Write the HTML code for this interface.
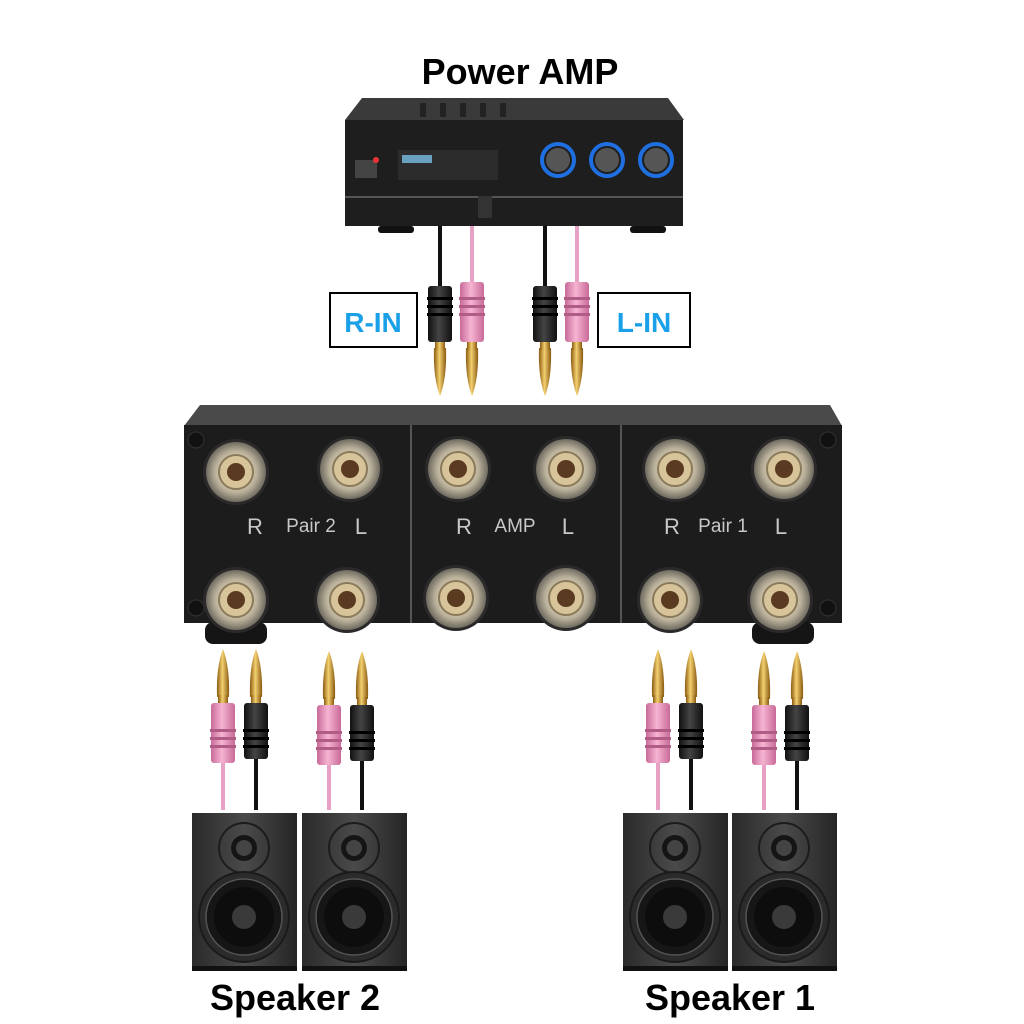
<!DOCTYPE html>
<html><head><meta charset="utf-8"><style>
body{margin:0;background:#fff;}
svg{display:block}
text{font-family:"Liberation Sans",Arial,sans-serif;font-weight:bold}
</style></head><body>
<svg width="1024" height="1024" viewBox="0 0 1024 1024" xmlns="http://www.w3.org/2000/svg">
<defs>
<linearGradient id="gold" x1="0" x2="1"><stop offset="0" stop-color="#8a5a10"/><stop offset=".45" stop-color="#f3d070"/><stop offset="1" stop-color="#8a5a10"/></linearGradient>
<linearGradient id="pink" x1="0" x2="1"><stop offset="0" stop-color="#c86a98"/><stop offset=".45" stop-color="#f6b4d2"/><stop offset="1" stop-color="#c86a98"/></linearGradient>
<linearGradient id="blk" x1="0" x2="1"><stop offset="0" stop-color="#111"/><stop offset=".45" stop-color="#444"/><stop offset="1" stop-color="#111"/></linearGradient>
<radialGradient id="post" cx=".5" cy=".5" r=".5"><stop offset=".3" stop-color="#e8dcc0"/><stop offset=".7" stop-color="#b9b09a"/><stop offset="1" stop-color="#6f6a60"/></radialGradient>
<linearGradient id="spk" x1="0" x2="1"><stop offset="0" stop-color="#2a2a2a"/><stop offset=".5" stop-color="#4a4a4a"/><stop offset="1" stop-color="#252525"/></linearGradient>
<g id="bp">
<circle r="33" fill="#2a2a2a"/>
<circle r="30" fill="url(#post)"/>
<circle r="17" fill="#d8c49a" stroke="#8a7a5a" stroke-width="2"/>
<circle r="9" fill="#5a3a20"/>
</g>
<g id="plugP">
<path d="M-6 0 Q-7 -30 0 -48 Q7 -30 6 0 Z" fill="url(#gold)"/>
<rect x="-5" y="-2" width="10" height="8" fill="url(#gold)"/>
<rect x="-12" y="6" width="24" height="60" rx="3" fill="url(#pink)"/>
<g fill="#b05c86"><rect x="-13" y="32" width="26" height="3"/><rect x="-13" y="40" width="26" height="3"/><rect x="-13" y="48" width="26" height="3"/></g>
</g>
<g id="plugB">
<path d="M-6 0 Q-7 -30 0 -48 Q7 -30 6 0 Z" fill="url(#gold)"/>
<rect x="-5" y="-2" width="10" height="8" fill="url(#gold)"/>
<rect x="-12" y="6" width="24" height="56" rx="3" fill="url(#blk)"/>
<g fill="#000"><rect x="-13" y="32" width="26" height="3"/><rect x="-13" y="40" width="26" height="3"/><rect x="-13" y="48" width="26" height="3"/></g>
</g>
<g id="spkr">
<rect x="0" y="0" width="105" height="157" fill="url(#spk)"/>
<rect x="0" y="153" width="105" height="5" fill="#111"/>
<circle cx="52" cy="35" r="25" fill="none" stroke="#1c1c1c" stroke-width="2"/>
<circle cx="52" cy="35" r="13" fill="#151515"/>
<circle cx="52" cy="35" r="8" fill="#444"/>
<circle cx="52" cy="104" r="45" fill="#2b2b2b" stroke="#1a1a1a" stroke-width="2"/>
<circle cx="52" cy="104" r="38" fill="#161616" stroke="#555" stroke-width="1.5"/>
<circle cx="52" cy="104" r="30" fill="#0d0d0d"/>
<circle cx="52" cy="104" r="12" fill="#3a3a3a"/>
</g>
</defs>

<text x="520" y="84" font-size="36" text-anchor="middle" fill="#000">Power AMP</text>

<path d="M362 98 L668 98 L684 120 L345 120 Z" fill="#3a3a3a"/>
<g fill="#222"><rect x="420" y="103" width="6" height="14"/><rect x="440" y="103" width="6" height="14"/><rect x="460" y="103" width="6" height="14"/><rect x="480" y="103" width="6" height="14"/><rect x="500" y="103" width="6" height="14"/></g>
<rect x="345" y="120" width="338" height="106" fill="#1e1e1e"/>
<rect x="345" y="196" width="338" height="2" fill="#555"/>
<rect x="355" y="160" width="22" height="18" fill="#444"/>
<circle cx="376" cy="160" r="3" fill="#e33"/>
<rect x="398" y="150" width="100" height="30" fill="#2c2c2c"/>
<rect x="402" y="155" width="30" height="8" fill="#6aa0c0"/>
<g fill="none" stroke="#1f6fe0" stroke-width="4"><circle cx="558" cy="160" r="16"/><circle cx="607" cy="160" r="16"/><circle cx="656" cy="160" r="16"/></g>
<g fill="#555"><circle cx="558" cy="160" r="12"/><circle cx="607" cy="160" r="12"/><circle cx="656" cy="160" r="12"/></g>
<rect x="478" y="196" width="14" height="22" fill="#333"/>
<rect x="378" y="226" width="36" height="7" rx="3" fill="#111"/>
<rect x="630" y="226" width="36" height="7" rx="3" fill="#111"/>

<rect x="438" y="226" width="4" height="60" fill="#111"/>
<rect x="470" y="226" width="4" height="60" fill="#e8a0c4"/>
<rect x="543" y="226" width="4" height="60" fill="#111"/>
<rect x="575" y="226" width="4" height="60" fill="#e8a0c4"/>
<g transform="translate(440,348) scale(1,-1)"><use href="#plugB"/></g>
<g transform="translate(472,348) scale(1,-1)"><use href="#plugP"/></g>
<g transform="translate(545,348) scale(1,-1)"><use href="#plugB"/></g>
<g transform="translate(577,348) scale(1,-1)"><use href="#plugP"/></g>

<rect x="330" y="293" width="87" height="54" fill="#fff" stroke="#000" stroke-width="2"/>
<text x="373" y="332" font-size="28" text-anchor="middle" fill="#1aa0e8">R-IN</text>
<rect x="598" y="293" width="92" height="54" fill="#fff" stroke="#000" stroke-width="2"/>
<text x="644" y="332" font-size="28" text-anchor="middle" fill="#1aa0e8">L-IN</text>

<path d="M200 405 L830 405 L842 426 L184 426 Z" fill="#4a4a4a"/>
<rect x="184" y="425" width="658" height="198" fill="#1c1c1c"/>
<rect x="410" y="425" width="2" height="198" fill="#555"/>
<rect x="620" y="425" width="2" height="198" fill="#555"/>
<g fill="#111" stroke="#333"><circle cx="196" cy="440" r="8"/><circle cx="196" cy="608" r="8"/><circle cx="828" cy="440" r="8"/><circle cx="828" cy="608" r="8"/></g>
<rect x="205" y="622" width="62" height="22" rx="8" fill="#151515"/>
<rect x="752" y="622" width="62" height="22" rx="8" fill="#151515"/>
<use href="#bp" x="236" y="472"/><use href="#bp" x="350" y="469"/>
<use href="#bp" x="458" y="469"/><use href="#bp" x="566" y="469"/>
<use href="#bp" x="675" y="469"/><use href="#bp" x="784" y="469"/>
<use href="#bp" x="236" y="600"/><use href="#bp" x="347" y="600"/>
<use href="#bp" x="456" y="598"/><use href="#bp" x="566" y="598"/>
<use href="#bp" x="670" y="600"/><use href="#bp" x="780" y="600"/>
<g fill="#c8c8c8">
<text x="255" y="534" font-size="22" text-anchor="middle" style="font-weight:normal">R</text>
<text x="311" y="532" font-size="19" text-anchor="middle" style="font-weight:normal">Pair 2</text>
<text x="361" y="534" font-size="22" text-anchor="middle" style="font-weight:normal">L</text>
<text x="464" y="534" font-size="22" text-anchor="middle" style="font-weight:normal">R</text>
<text x="515" y="532" font-size="19" text-anchor="middle" style="font-weight:normal">AMP</text>
<text x="568" y="534" font-size="22" text-anchor="middle" style="font-weight:normal">L</text>
<text x="672" y="534" font-size="22" text-anchor="middle" style="font-weight:normal">R</text>
<text x="723" y="532" font-size="19" text-anchor="middle" style="font-weight:normal">Pair 1</text>
<text x="781" y="534" font-size="22" text-anchor="middle" style="font-weight:normal">L</text>
</g>

<g>
<rect x="221" y="750" width="4" height="60" fill="#e8a0c4"/><rect x="254" y="750" width="4" height="60" fill="#111"/>
<rect x="327" y="750" width="4" height="60" fill="#e8a0c4"/><rect x="360" y="750" width="4" height="60" fill="#111"/>
<rect x="656" y="750" width="4" height="60" fill="#e8a0c4"/><rect x="689" y="750" width="4" height="60" fill="#111"/>
<rect x="762" y="750" width="4" height="60" fill="#e8a0c4"/><rect x="795" y="750" width="4" height="60" fill="#111"/>
</g>
<use href="#plugP" x="223" y="697"/><use href="#plugB" x="256" y="697"/>
<use href="#plugP" x="329" y="699"/><use href="#plugB" x="362" y="699"/>
<use href="#plugP" x="658" y="697"/><use href="#plugB" x="691" y="697"/>
<use href="#plugP" x="764" y="699"/><use href="#plugB" x="797" y="699"/>

<use href="#spkr" x="192" y="813"/><use href="#spkr" x="302" y="813"/>
<use href="#spkr" x="623" y="813"/><use href="#spkr" x="732" y="813"/>

<text x="295" y="1010" font-size="36" text-anchor="middle" fill="#000">Speaker 2</text>
<text x="730" y="1010" font-size="36" text-anchor="middle" fill="#000">Speaker 1</text>
</svg>
</body></html>
